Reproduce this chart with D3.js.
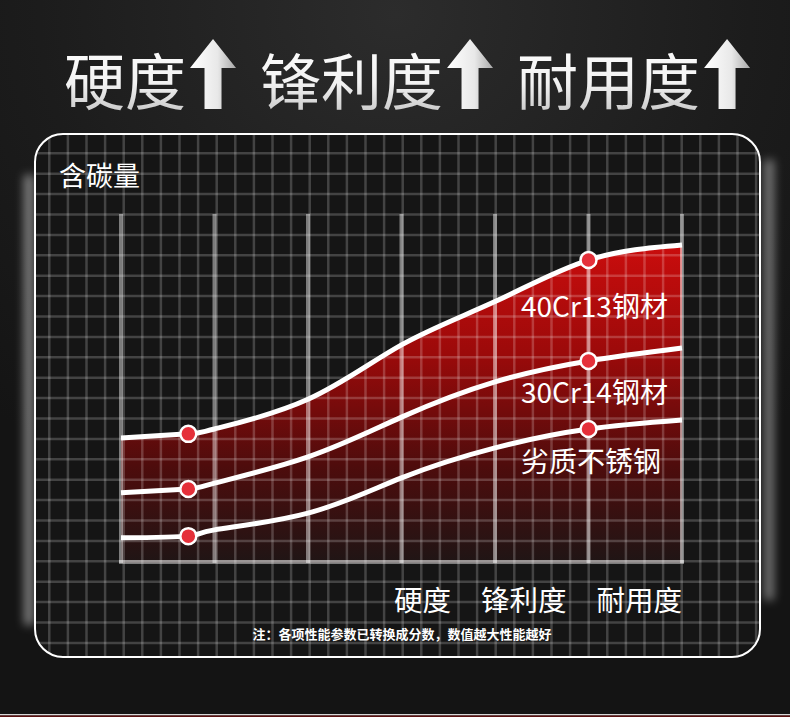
<!DOCTYPE html>
<html>
<head>
<meta charset="utf-8">
<script src="https://cdn.jsdelivr.net/npm/d3@7"></script>
<style>
  html, body { margin: 0; padding: 0; background: #161616; }
  svg { display: block; }
</style>
</head>
<body>
<svg id="chart"></svg>
<script>
// headline words, each followed by an up arrow
const titleWords = ["硬度", "锋利度", "耐用度"]
const yAxisTitle = "含碳量"
const xTickLabels = ["硬度", "锋利度", "耐用度"]
const note = "注：各项性能参数已转换成分数，数值越大性能越好"

// x positions in "column" units (0 = left edge of the plot, 6 = right edge)
const xSteps = [0, 0.72, 1, 2, 3, 4, 5, 6]
// scores (0 = baseline, 100 = top of the columns)
const steel40Cr13 = [35.8, 37.0, 38.4, 46.9, 62.5, 74.9, 86.8, 91.1]
const steel30Cr14 = [20.1, 21.2, 22.9, 30.4, 41.8, 51.9, 57.9, 61.6]
const cheapSteel = [7.2, 7.7, 9.5, 14.3, 24.4, 33.0, 38.4, 41.0]
const seriesNames = ["40Cr13钢材", "30Cr14钢材", "劣质不锈钢"]
// which steps carry a dot
const dotSteps = [1, 6]

const chart = { width: 790, height: 717 }
const panel = { x: 35, y: 134, w: 725, h: 523, r: 28 }
const plot = { left: 121, right: 682, top: 214, bottom: 563 }
const font = "'Noto Sans CJK SC', 'Noto Sans', sans-serif"

const svg = d3.select("#chart")
    .attr("width", chart.width)
    .attr("height", chart.height)

const defs = svg.append("defs")

const bgGrad = defs.append("radialGradient")
    .attr("id", "bgGrad")
    .attr("cx", 0.5).attr("cy", 0.02).attr("r", 0.75)
bgGrad.append("stop").attr("offset", "0%").attr("stop-color", "#2c2c2c")
bgGrad.append("stop").attr("offset", "60%").attr("stop-color", "#1c1c1c")
bgGrad.append("stop").attr("offset", "100%").attr("stop-color", "#141414")

const titleGrad = defs.append("linearGradient")
    .attr("id", "titleGrad")
    .attr("x1", 0).attr("y1", 0).attr("x2", 0).attr("y2", 1)
titleGrad.append("stop").attr("offset", "0%").attr("stop-color", "#ffffff")
titleGrad.append("stop").attr("offset", "55%").attr("stop-color", "#f2f2f2")
titleGrad.append("stop").attr("offset", "100%").attr("stop-color", "#bcbcbc")

const arrowGrad = defs.append("linearGradient")
    .attr("id", "arrowGrad")
    .attr("x1", 0).attr("y1", 0).attr("x2", 1).attr("y2", 0)
arrowGrad.append("stop").attr("offset", "0%").attr("stop-color", "#ffffff")
arrowGrad.append("stop").attr("offset", "60%").attr("stop-color", "#e8e8e8")
arrowGrad.append("stop").attr("offset", "100%").attr("stop-color", "#a8a8a8")

const redGrad = defs.append("linearGradient")
    .attr("id", "redGrad")
    .attr("gradientUnits", "userSpaceOnUse")
    .attr("x1", 0).attr("y1", 240).attr("x2", 0).attr("y2", plot.bottom)
redGrad.append("stop").attr("offset", "0%").attr("stop-color", "#cc0d0d")
redGrad.append("stop").attr("offset", "35%").attr("stop-color", "#9c0a0a")
redGrad.append("stop").attr("offset", "70%").attr("stop-color", "#4e0c0c")
redGrad.append("stop").attr("offset", "100%").attr("stop-color", "#1f1515")

defs.append("filter").attr("id", "glow")
    .attr("x", "-200%").attr("y", "-20%").attr("width", "500%").attr("height", "140%")
    .append("feGaussianBlur").attr("stdDeviation", 5)

defs.append("clipPath").attr("id", "panelClip")
    .append("rect")
    .attr("x", panel.x).attr("y", panel.y)
    .attr("width", panel.w).attr("height", panel.h)
    .attr("rx", panel.r)

// background
svg.append("rect")
    .attr("width", chart.width).attr("height", chart.height)
    .attr("fill", "url(#bgGrad)")

// soft light on both sides of the panel
svg.append("rect")
    .attr("x", 24).attr("y", 175).attr("width", 10).attr("height", 450)
    .attr("fill", "#ffffff").attr("opacity", 0.45)
    .attr("filter", "url(#glow)")
svg.append("rect")
    .attr("x", 764).attr("y", 160).attr("width", 10).attr("height", 440)
    .attr("fill", "#ffffff").attr("opacity", 0.4)
    .attr("filter", "url(#glow)")

// bottom edge strip
svg.append("rect")
    .attr("x", 0).attr("y", 714).attr("width", chart.width).attr("height", 1.5)
    .attr("fill", "#d8d8d8")
svg.append("rect")
    .attr("x", 0).attr("y", 715.5).attr("width", chart.width).attr("height", 2)
    .attr("fill", "#5a1010")

// title
const title = svg.append("g")
let tx = 64
titleWords.forEach(function (w, i) {
    const t = title.append("text")
        .attr("x", tx).attr("y", 105)
        .attr("font-family", font)
        .attr("font-size", 61)
        .attr("fill", "url(#titleGrad)")
        .text(w)
    const len = t.node().getComputedTextLength()
    const ax = tx + len + 4
    // block arrow: head 46 wide, shaft 17 wide
    const arrow = d3.path()
    arrow.moveTo(ax + 23, 39)
    arrow.lineTo(ax + 46, 68)
    arrow.lineTo(ax + 31.5, 68)
    arrow.lineTo(ax + 31.5, 109)
    arrow.lineTo(ax + 14.5, 109)
    arrow.lineTo(ax + 14.5, 68)
    arrow.lineTo(ax, 68)
    arrow.closePath()
    title.append("path")
        .attr("d", arrow.toString())
        .attr("fill", "url(#arrowGrad)")
    tx = ax + 46 + 24
})

// panel
svg.append("rect")
    .attr("x", panel.x).attr("y", panel.y)
    .attr("width", panel.w).attr("height", panel.h)
    .attr("rx", panel.r)
    .attr("fill", "#151515")

const inner = svg.append("g").attr("clip-path", "url(#panelClip)")

const scaleX = d3.scaleLinear()
    .domain([0, 6])
    .range([plot.left, plot.right])

const scaleY = d3.scaleLinear()
    .domain([0, 100])
    .range([plot.bottom, plot.top])

const lineGen = d3.line()
    .x((d) => scaleX(d.x))
    .y((d) => scaleY(d.y))
    .curve(d3.curveNatural)

const areaGen = d3.area()
    .x((d) => scaleX(d.x))
    .y0(scaleY(0))
    .y1((d) => scaleY(d.y))
    .curve(d3.curveNatural)

const allSeries = [steel40Cr13, steel30Cr14, cheapSteel].map(function (vals) {
    return xSteps.map((x, i) => ({ x: x, y: vals[i] }))
})

// red area under the top curve
inner.append("path")
    .datum(allSeries[0])
    .attr("d", areaGen)
    .attr("fill", "url(#redGrad)")

// grid
const gridX = d3.range(0, 39).map((k) => 49.3 + 18.6 * k)
const gridY = d3.range(-1, 25).map((k) => 153.3 + 20.4 * k)
inner.selectAll(".gx")
    .data(gridX)
    .enter()
    .append("line")
    .attr("x1", (d) => d).attr("x2", (d) => d)
    .attr("y1", panel.y).attr("y2", panel.y + panel.h)
    .attr("stroke", "#ffffff").attr("stroke-opacity", 0.2)
    .attr("stroke-width", 2.5)
inner.selectAll(".gy")
    .data(gridY)
    .enter()
    .append("line")
    .attr("y1", (d) => d).attr("y2", (d) => d)
    .attr("x1", panel.x).attr("x2", panel.x + panel.w)
    .attr("stroke", "#ffffff").attr("stroke-opacity", 0.2)
    .attr("stroke-width", 2.5)

// column guides and baseline
inner.selectAll(".col")
    .data(d3.range(0, 7))
    .enter()
    .append("line")
    .attr("x1", (d) => scaleX(d)).attr("x2", (d) => scaleX(d))
    .attr("y1", plot.top).attr("y2", plot.bottom)
    .attr("stroke", "#ffffff").attr("stroke-opacity", 0.44)
    .attr("stroke-width", 4)
inner.append("line")
    .attr("x1", scaleX(0) - 2).attr("x2", scaleX(6) + 2)
    .attr("y1", plot.bottom - 1).attr("y2", plot.bottom - 1)
    .attr("stroke", "#ffffff").attr("stroke-opacity", 0.44)
    .attr("stroke-width", 4)

// panel outline
svg.append("rect")
    .attr("x", panel.x).attr("y", panel.y)
    .attr("width", panel.w).attr("height", panel.h)
    .attr("rx", panel.r)
    .attr("fill", "none")
    .attr("stroke", "#ffffff")
    .attr("stroke-width", 2)

// curves
svg.selectAll(".curve")
    .data(allSeries)
    .enter()
    .append("path")
    .attr("fill", "none")
    .attr("stroke", "#ffffff")
    .attr("stroke-width", 5)
    .attr("d", lineGen)

// dots
allSeries.forEach(function (s) {
    svg.selectAll(null)
        .data(s.filter((d, i) => dotSteps.includes(i)))
        .enter()
        .append("circle")
        .attr("cx", (d) => scaleX(d.x))
        .attr("cy", (d) => scaleY(d.y))
        .attr("r", 8)
        .attr("fill", "#e5303a")
        .attr("stroke", "#ffffff")
        .attr("stroke-width", 2.5)
})

// series labels
const labelY = [317, 403, 472]
svg.selectAll(".sname")
    .data(seriesNames)
    .enter()
    .append("text")
    .attr("x", 521)
    .attr("y", (d, i) => labelY[i])
    .attr("font-family", font)
    .attr("font-size", 28)
    .attr("fill", "#ffffff")
    .text((d) => d)

// y title
svg.append("text")
    .attr("x", 59).attr("y", 186)
    .attr("font-family", font)
    .attr("font-size", 27)
    .attr("fill", "#ffffff")
    .text(yAxisTitle)

// x labels, right aligned to the last column, ~30px apart
const xLabel = svg.append("text")
    .attr("x", scaleX(6)).attr("y", 611)
    .attr("text-anchor", "end")
    .attr("font-family", font)
    .attr("font-size", 28.5)
    .attr("fill", "#ffffff")
xLabel.selectAll("tspan")
    .data(xTickLabels)
    .enter()
    .append("tspan")
    .attr("dx", (d, i) => i === 0 ? 0 : 30)
    .text((d) => d)

// footnote
svg.append("text")
    .attr("x", 402).attr("y", 639)
    .attr("text-anchor", "middle")
    .attr("font-family", font)
    .attr("font-size", 13)
    .attr("font-weight", "bold")
    .attr("fill", "#ffffff")
    .text(note)
</script>
</body>
</html>
